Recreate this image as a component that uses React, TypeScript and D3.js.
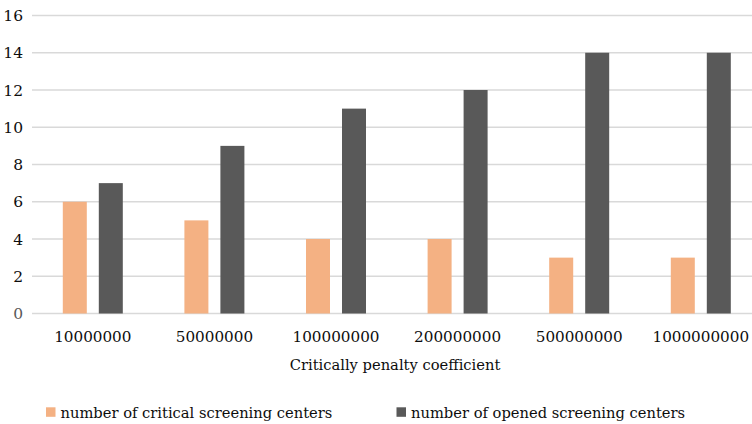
import React from "react";
import * as d3 from "d3";

const categories = ["10000000", "50000000", "100000000", "200000000", "500000000", "1000000000"];
const criticalCenters = [6, 5, 4, 4, 3, 3];
const openedCenters = [7, 9, 11, 12, 14, 14];
const seriesNames = ["number of critical screening centers", "number of opened screening centers"];
const seriesColors = ["#F4B183", "#595959"];
const yTicks = [0, 2, 4, 6, 8, 10, 12, 14, 16];
const xTitle = "Critically penalty coefficient";

const W = 752;
const H = 424;
const FONT = "'DejaVu Serif', serif";
const INK = "#0d0d0d";

export default function App() {
  const plotLeft = 32;
  const bandStep = 121.6;
  const x0 = d3
    .scaleBand<string>()
    .domain(categories)
    .range([plotLeft, plotLeft + bandStep * categories.length])
    .paddingInner(0)
    .paddingOuter(0);
  const x1 = d3
    .scaleBand<number>()
    .domain([0, 1])
    .range([x0.bandwidth() / 2 - 30, x0.bandwidth() / 2 + 30])
    .paddingInner(1 / 3)
    .paddingOuter(0);
  const y = d3.scaleLinear().domain([0, 16]).range([313.5, 15.5]);

  const series = [criticalCenters, openedCenters];

  return (
    <svg
      width={W}
      height={H}
      style={{ position: "absolute", left: 0, top: 0, background: "#fff", display: "block" }}
    >
      <rect x={0} y={0} width={W} height={H} fill="#fff" />
      {yTicks.map((t) => (
        <g key={t}>
          <line x1={plotLeft} x2={W} y1={y(t)} y2={y(t)} stroke="#d9d9d9" strokeWidth={1.4} />
          <text
            x={23}
            y={y(t)}
            dy="0.36em"
            textAnchor="end"
            fontFamily={FONT}
            fontSize={15.5}
            fill={t === 0 ? "#595959" : INK}
          >
            {t}
          </text>
        </g>
      ))}
      {categories.map((c, i) => (
        <g key={c} transform={`translate(${x0(c)},0)`}>
          {series.map((vals, s) => (
            <rect
              key={s}
              x={x1(s)}
              y={y(vals[i])}
              width={x1.bandwidth()}
              height={y(0) - y(vals[i])}
              fill={seriesColors[s]}
            />
          ))}
          <text
            x={x0.bandwidth() / 2}
            y={342}
            textAnchor="middle"
            fontFamily={FONT}
            fontSize={15.2}
            fill={INK}
          >
            {c}
          </text>
        </g>
      ))}
      <text x={395} y={370} textAnchor="middle" fontFamily={FONT} fontSize={14.7} fill={INK}>
        {xTitle}
      </text>
      {seriesNames.map((name, s) => {
        const lx = s === 0 ? 46 : 396.5;
        return (
          <g key={name}>
            <rect x={lx} y={407.3} width={9.5} height={9.5} fill={seriesColors[s]} />
            <text x={lx + 14.5} y={417.5} fontFamily={FONT} fontSize={14.7} fill={INK}>
              {name}
            </text>
          </g>
        );
      })}
    </svg>
  );
}
